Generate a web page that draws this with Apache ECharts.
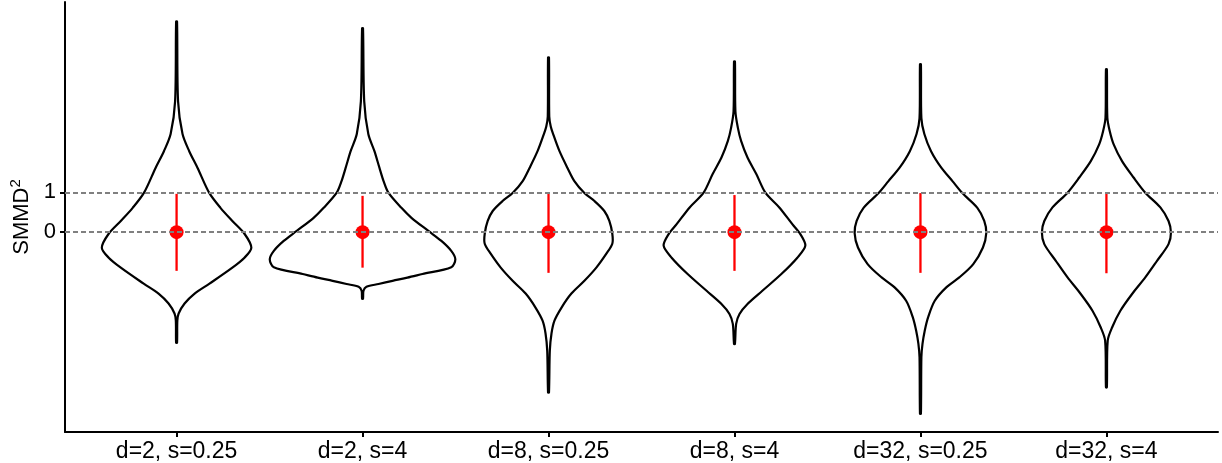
<!DOCTYPE html>
<html>
<head>
<meta charset="utf-8">
<script src="https://cdn.jsdelivr.net/npm/echarts@6/dist/echarts.min.js"></script>
<style>html,body{margin:0;padding:0;background:#fff}#c{width:1222px;height:463px}</style>
</head>
<body>
<div id="c"></div>
<script>
// ---- data ----
const categories = ['d=2, s=0.25', 'd=2, s=4', 'd=8, s=0.25', 'd=8, s=4', 'd=32, s=0.25', 'd=32, s=4'];
// violin outlines: [y value, half-width in category units]
const violin1 = [[5.28,0.0025],[3.28,0.008],[2.46,0.032],[2.03,0.068],[1.61,0.113],[0.99,0.175],[0.61,0.236],[0.28,0.300],[-0.04,0.365],[-0.39,0.402],[-0.64,0.365],[-0.89,0.300],[-1.29,0.177],[-1.54,0.097],[-1.79,0.043],[-2.04,0.011],[-2.22,0.004],[-2.77,0.0025]];
const violin2 = [[5.11,0.0025],[3.28,0.009],[2.46,0.031],[2.03,0.064],[1.61,0.091],[1.28,0.113],[0.99,0.139],[0.61,0.209],[0.36,0.263],[0.03,0.354],[-0.22,0.424],[-0.47,0.477],[-0.68,0.499],[-0.88,0.477],[-1.05,0.322],[-1.14,0.241],[-1.22,0.161],[-1.30,0.086],[-1.37,0.021],[-1.47,0.005],[-1.67,0.0025]];
const violin3 = [[4.38,0.0025],[2.90,0.004],[2.65,0.012],[2.46,0.025],[2.03,0.059],[1.61,0.102],[1.28,0.139],[0.98,0.193],[0.78,0.247],[0.53,0.300],[0.28,0.327],[-0.04,0.343],[-0.29,0.343],[-0.54,0.311],[-0.89,0.257],[-1.22,0.193],[-1.54,0.123],[-1.89,0.070],[-2.22,0.032],[-2.54,0.016],[-2.97,0.007],[-4.02,0.0025]];
const violin4 = [[4.28,0.0025],[3.03,0.005],[2.62,0.018],[2.28,0.036],[1.87,0.070],[1.45,0.118],[0.99,0.166],[0.62,0.241],[0.20,0.311],[-0.05,0.354],[-0.34,0.381],[-0.64,0.338],[-1.05,0.252],[-1.47,0.150],[-1.80,0.070],[-2.05,0.027],[-2.30,0.009],[-2.80,0.0025]];
const violin5 = [[4.21,0.0025],[2.86,0.005],[2.46,0.021],[2.03,0.057],[1.61,0.113],[1.28,0.172],[0.98,0.225],[0.61,0.306],[0.28,0.343],[-0.02,0.354],[-0.385,0.336],[-0.80,0.284],[-1.135,0.209],[-1.385,0.139],[-1.72,0.077],[-2.135,0.041],[-2.47,0.023],[-2.80,0.011],[-3.135,0.005],[-4.55,0.0025]];
const violin6 = [[4.08,0.0025],[2.87,0.005],[2.53,0.018],[2.20,0.039],[1.78,0.084],[1.37,0.146],[0.99,0.209],[0.62,0.290],[0.28,0.334],[-0.01,0.347],[-0.30,0.334],[-0.72,0.272],[-1.135,0.209],[-1.55,0.138],[-1.97,0.075],[-2.385,0.031],[-2.72,0.007],[-3.89,0.0025]];
const means = [0, 0, 0, 0, 0, 0];
const lower = [-0.97, -0.89, -1.02, -0.97, -1.02, -1.03];
const upper = [0.96, 0.91, 0.96, 0.93, 0.98, 0.97];
const yTicks = [0, 1];
const refLines = [0, 1];
const xPositions = [1, 2, 3, 4, 5, 6];

const violins = [violin1, violin2, violin3, violin4, violin5, violin6];

const chart = echarts.init(document.getElementById('c'), null, {renderer: 'canvas'});
const FONT = 'Liberation Sans, Arial, sans-serif';

chart.setOption({
  animation: false,
  backgroundColor: '#fff',
  grid: {left: 63, right: 4, top: 2, bottom: 31, containLabel: false},
  xAxis: {
    type: 'value', min: 0.4, max: 6.6,
    axisLine: {show: true, onZero: false, lineStyle: {color: '#000', width: 2}},
    axisTick: {show: true, customValues: xPositions, length: 5, lineStyle: {color: '#000', width: 2}},
    axisLabel: {show: true, customValues: xPositions, margin: 8, color: '#000', fontSize: 23, fontFamily: FONT,
      formatter: v => categories[Math.round(v) - 1]},
    splitLine: {show: false}
  },
  yAxis: {
    type: 'value', min: -5.01, max: 5.77,
    name: '{m|SMMD}{s|2}', nameLocation: 'middle', nameGap: 30, nameRotate: 90,
    nameTextStyle: {rich: {
      m: {fontSize: 22, fontFamily: FONT, color: '#000'},
      s: {fontSize: 15, fontFamily: FONT, color: '#000', verticalAlign: 'top', padding: [0, 0, 12, 0]}
    }},
    axisLine: {show: true, onZero: false, lineStyle: {color: '#000', width: 2}},
    axisTick: {show: true, customValues: yTicks, length: 5, lineStyle: {color: '#000', width: 2}},
    axisLabel: {show: true, customValues: yTicks, margin: 9, color: '#000', fontSize: 22, fontFamily: FONT},
    splitLine: {show: false}
  },
  series: [
    {
      type: 'custom',
      name: 'violin',
      data: xPositions.map(x => [x, 0]),
      encode: {x: 0, y: 1},
      renderItem: function (params, api) {
        const i = api.value(0);
        const pts = violins[i - 1];
        const right = pts.map(p => api.coord([i + p[1], p[0]]));
        const left = pts.slice().reverse().map(p => api.coord([i - p[1], p[0]]));
        return {
          type: 'polygon',
          shape: {points: right.concat(left), smooth: 0.3},
          style: {fill: 'rgba(0,0,0,0)', stroke: '#000', lineWidth: 2.2}
        };
      },
      z: 2, silent: true
    },
    {
      type: 'custom',
      name: 'range',
      data: xPositions.map((x, k) => [x, lower[k], upper[k]]),
      encode: {x: 0, y: [1, 2]},
      renderItem: function (params, api) {
        const a = api.coord([api.value(0), api.value(1)]);
        const b = api.coord([api.value(0), api.value(2)]);
        return {type: 'line', shape: {x1: a[0], y1: a[1], x2: b[0], y2: b[1]},
          style: {stroke: '#ff0000', lineWidth: 2.3}};
      },
      z: 3, silent: true
    },
    {
      type: 'scatter',
      name: 'mean',
      data: xPositions.map((x, k) => [x, means[k]]),
      symbol: 'circle', symbolSize: 14,
      itemStyle: {color: '#ff0000', opacity: 1},
      z: 4, silent: true,
      markLine: {
        silent: true, symbol: ['none', 'none'], label: {show: false},
        lineStyle: {color: '#808080', type: [5, 3], width: 2, opacity: 1},
        data: refLines.map(v => ({yAxis: v})),
        z: 10
      }
    }
  ]
});
</script>
</body>
</html>
